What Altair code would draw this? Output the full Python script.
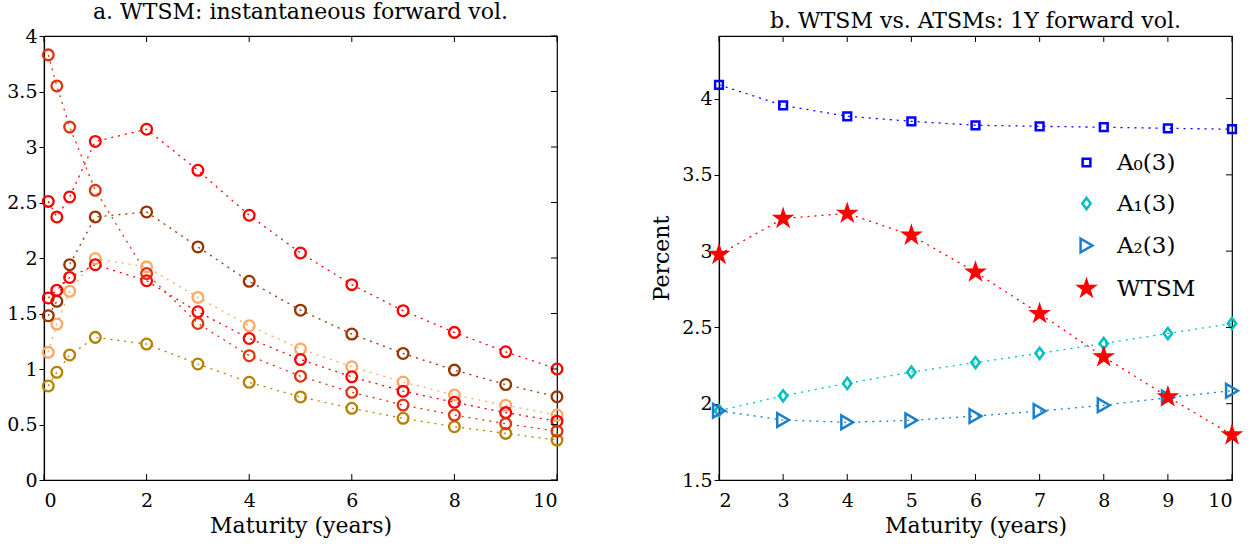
import altair as alt
import pandas as pd

# ---------------- Panel a data ----------------
mat_a = [1/12, 0.25, 0.5, 1, 2, 3, 4, 5, 6, 7, 8, 9, 10]
s_red_hump = [2.51, 2.37, 2.55, 3.05, 3.16, 2.79, 2.385, 2.045, 1.76, 1.525, 1.33, 1.155, 1.0]
s_orange_red = [3.83, 3.55, 3.18, 2.61, 1.86, 1.41, 1.12, 0.935, 0.79, 0.675, 0.585, 0.507, 0.44]
s_red_low = [1.64, 1.71, 1.825, 1.94, 1.795, 1.515, 1.275, 1.085, 0.93, 0.80, 0.70, 0.607, 0.53]
s_brown = [1.48, 1.61, 1.94, 2.37, 2.415, 2.10, 1.79, 1.53, 1.315, 1.14, 0.99, 0.86, 0.75]
s_light = [1.15, 1.405, 1.70, 1.995, 1.92, 1.645, 1.39, 1.18, 1.02, 0.883, 0.766, 0.673, 0.585]
s_gold = [0.847, 0.97, 1.126, 1.285, 1.225, 1.045, 0.88, 0.748, 0.646, 0.556, 0.48, 0.42, 0.36]

a_names = ["gold", "light", "brown", "red_low", "orange_red", "red_hump"]
a_series = [s_gold, s_light, s_brown, s_red_low, s_orange_red, s_red_hump]
a_colors = ["#B58200", "#FFA866", "#993300", "#FF0000", "#DB3510", "#FF0000"]

a_xticks = [0, 2, 4, 6, 8, 10]
a_yticks = [0, 0.5, 1, 1.5, 2, 2.5, 3, 3.5, 4]

# ---------------- Panel b data ----------------
mat_b = [2, 3, 4, 5, 6, 7, 8, 9, 10]
b_a0 = [4.09, 3.955, 3.884, 3.851, 3.825, 3.818, 3.812, 3.805, 3.799]
b_a1 = [1.954, 2.052, 2.133, 2.207, 2.27, 2.33, 2.395, 2.46, 2.526]
b_a2 = [1.954, 1.893, 1.878, 1.891, 1.919, 1.952, 1.99, 2.04, 2.085]
b_wtsm = [2.978, 3.214, 3.247, 3.104, 2.862, 2.59, 2.307, 2.045, 1.795]

b_names = ["A₀(3)", "A₁(3)", "A₂(3)", "WTSM"]
b_series = [b_a0, b_a1, b_a2, b_wtsm]
b_colors = ["#0000FF", "#00BFBF", "#1A7FC8", "#FF0000"]
b_fills = ["transparent", "transparent", "transparent", "#FF0000"]
STAR = ("M0,-1L0.2245,-0.309L0.951,-0.309L0.3633,0.118L0.5878,0.809"
        "L0,0.382L-0.5878,0.809L-0.3633,0.118L-0.951,-0.309L-0.2245,-0.309Z")
DIAMOND = "M0,-1L0.75,0L0,1L-0.75,0Z"
b_shapes = ["square", DIAMOND, "triangle-right", STAR]
b_sizes = [60, 250, 160, 340]

b_xticks = [2, 3, 4, 5, 6, 7, 8, 9, 10]
b_yticks = [1.5, 2, 2.5, 3, 3.5, 4]

W, H = 513, 444
FONT = "DejaVu Serif"
TICK = 6
SPACING = 162

# ---------------- build frames ----------------
rows = []
for n, s in zip(a_names, a_series):
    for m, v in zip(mat_a, s):
        rows.append({"m": m, "v": v, "sa": n})
df_a = pd.DataFrame(rows)

rows = []
for n, s in zip(b_names, b_series):
    for m, v in zip(mat_b, s):
        rows.append({"m": m, "v": v, "sb": n})
df_b = pd.DataFrame(rows)


def inward_ticks(xt, yt, xenc, yenc):
    dx = pd.DataFrame({"m": xt})
    dy = pd.DataFrame({"v": yt})
    top = alt.Chart(dx).mark_rule(color="black", strokeWidth=1).encode(
        x=xenc, y=alt.value(0), y2=alt.value(TICK))
    bot = alt.Chart(dx).mark_rule(color="black", strokeWidth=1).encode(
        x=xenc, y=alt.value(H), y2=alt.value(H - TICK))
    right = alt.Chart(dy).mark_rule(color="black", strokeWidth=1).encode(
        y=yenc, x=alt.value(W), x2=alt.value(W - TICK))
    return [top, bot, right]


def title(text):
    return alt.TitleParams(text, font=FONT, fontSize=22, fontWeight="normal",
                           offset=3, frame="group")


# ---------------- Panel a ----------------
xa = alt.X("m:Q", scale=alt.Scale(domain=[0, 10], nice=False),
           axis=alt.Axis(values=a_xticks, title="Maturity (years)", ticks=False,
                         labelPadding=11, titlePadding=5, format="d"))
ya = alt.Y("v:Q", scale=alt.Scale(domain=[0, 4], nice=False, zero=False),
           axis=alt.Axis(values=a_yticks, title=None, tickSize=5, labelPadding=2,
                         format="~g"))
col_a = alt.Color("sa:N", scale=alt.Scale(domain=a_names, range=a_colors), legend=None)

lines_a = alt.Chart(df_a).mark_line(strokeDash=[2, 5], strokeWidth=1.3).encode(
    x=xa, y=ya, color=col_a, detail="sa:N")
pts_a = alt.Chart(df_a).mark_point(shape="circle", filled=False, size=115,
                                   strokeWidth=2.3, opacity=1).encode(
    x=xa, y=ya, color=col_a)

panel_a = alt.layer(lines_a, pts_a, *inward_ticks(a_xticks, a_yticks, xa, ya)).properties(
    width=W, height=H, title=title("a.  WTSM: instantaneous forward vol."))

# ---------------- Panel b ----------------
xb = alt.X("m:Q", scale=alt.Scale(domain=[2, 10], nice=False, zero=False),
           axis=alt.Axis(values=b_xticks, title="Maturity (years)", ticks=False,
                         labelPadding=11, titlePadding=5, format="d"))
yb = alt.Y("v:Q", scale=alt.Scale(domain=[1.5, 4.41], nice=False, zero=False),
           axis=alt.Axis(values=b_yticks, title="Percent", tickSize=5, labelPadding=2,
                         titlePadding=8, format="~g"))
col_b = alt.Color("sb:N", scale=alt.Scale(domain=b_names, range=b_colors), legend=None)

leg = alt.Legend(title=None, orient="none", legendX=W + SPACING + 356, legendY=115,
                 labelFont=FONT, labelFontSize=23, labelOffset=19, labelColor="black",
                 rowPadding=17, symbolStrokeWidth=2.5)
lines_b = alt.Chart(df_b).mark_line(strokeDash=[2, 5], strokeWidth=1.3).encode(
    x=xb, y=yb, color=col_b, detail="sb:N")
pts_b = alt.Chart(df_b).mark_point(strokeWidth=2.5, opacity=1).encode(
    x=xb, y=yb,
    stroke=alt.Stroke("sb:N", scale=alt.Scale(domain=b_names, range=b_colors), legend=leg),
    fill=alt.Fill("sb:N", scale=alt.Scale(domain=b_names, range=b_fills), legend=leg),
    shape=alt.Shape("sb:N", scale=alt.Scale(domain=b_names, range=b_shapes), legend=leg),
    size=alt.Size("sb:N", scale=alt.Scale(domain=b_names, range=b_sizes), legend=leg),
)

panel_b = alt.layer(lines_b, pts_b, *inward_ticks(b_xticks, b_yticks, xb, yb)).properties(
    width=W, height=H, title=title("b.  WTSM vs. ATSMs: 1Y forward vol."))

chart = alt.hconcat(panel_a, panel_b, spacing=SPACING, bounds="flush").resolve_scale(
    color="independent"
).properties(
    padding={"left": 6, "top": 0, "right": 5, "bottom": 5}
).configure_view(stroke="black", strokeWidth=1.2).configure_axis(
    labelFont=FONT, labelFontSize=19, labelColor="black",
    titleFont=FONT, titleFontSize=22, titleFontWeight="normal", titleColor="black",
    domainColor="black", domainWidth=1.2, tickColor="black", grid=False
).configure_title(color="black")

chart.save("out.html", embed_options={"renderer": "svg", "actions": False})
